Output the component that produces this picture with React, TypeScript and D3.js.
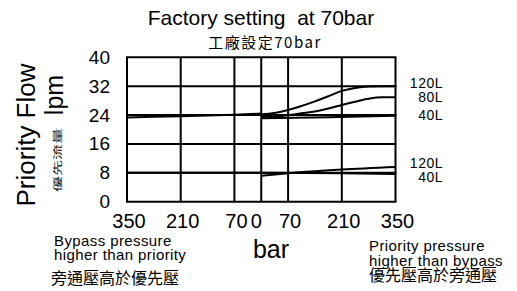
import React, { useRef, useEffect } from 'react';
import * as d3 from 'd3';

// flow axis (lpm)
const flowTicks = [0, 8, 16, 24, 32, 40];
// pressure grid: negative = bypass side, positive = priority side
const pressureTicks = [-350, -210, -70, 0, 70, 210, 350];

// bypass pressure higher than priority (left half)
const bypassPressure = [350, 210, 70, 0];
const bypassHigh = [23.3, 23.7, 24.1, 24.4];
const bypassLow = [8.0, 8.0, 8.0, 8.0];

// priority pressure higher than bypass (right half)
const priorityPressure = [0, 35, 70, 105, 140, 175, 210, 245, 280, 315, 350];
const flow120 = [24.2, 24.6, 25.4, 26.5, 27.8, 29.2, 30.7, 31.5, 31.9, 32.0, 32.0];
const flow80 = [23.5, 23.6, 24.0, 24.5, 25.0, 25.8, 26.8, 27.7, 28.5, 28.9, 28.9];
const flow40Pressure = [0, 175, 350];
const flow40 = [23.1, 23.4, 23.8];
const low120Pressure = [0, 70, 210, 350];
const low120 = [7.2, 7.9, 8.9, 9.6];
const low40Pressure = [0, 210, 350];
const low40 = [8.0, 7.9, 7.7];

const seriesLabels = ['120L', '80L', '40L', '120L', '40L'];
const seriesLabelFlow = [31.4, 27.7, 22.6, 9.25, 5.55];

const LATIN = '"Liberation Sans", Arial, sans-serif';
const CJK = '"Noto Sans CJK TC", "Noto Sans CJK SC", sans-serif';

const PriorityFlowChart: React.FC = () => {
  const svgRef = useRef<SVGSVGElement | null>(null);

  useEffect(() => {
    if (!svgRef.current) return;
    const svg = d3.select(svgRef.current);
    svg.selectAll('*').remove();

    const x = d3.scaleLinear().domain([-350, 350]).range([127, 395.5]);
    const y = d3.scaleLinear().domain([0, 40]).range([201.7, 57.3]);

    const grid = svg.append('g').attr('stroke', '#000').attr('stroke-width', 2);
    grid.selectAll('line.h')
      .data(flowTicks)
      .enter().append('line')
      .attr('x1', x(-350) - 1)
      .attr('x2', x(350) + 1)
      .attr('y1', d => y(d))
      .attr('y2', d => y(d));
    grid.selectAll('line.v')
      .data(pressureTicks)
      .enter().append('line')
      .attr('x1', d => x(d))
      .attr('x2', d => x(d))
      .attr('y1', y(40))
      .attr('y2', y(0));

    // curves
    const line = d3.line<[number, number]>()
      .x(d => x(d[0]))
      .y(d => y(d[1]))
      .curve(d3.curveMonotoneX);

    const series: [number, number][][] = [
      bypassPressure.map((p, i) => [-p, bypassHigh[i]] as [number, number]),
      bypassPressure.map((p, i) => [-p, bypassLow[i]] as [number, number]),
      priorityPressure.map((p, i) => [p, flow120[i]] as [number, number]),
      priorityPressure.map((p, i) => [p, flow80[i]] as [number, number]),
      flow40Pressure.map((p, i) => [p, flow40[i]] as [number, number]),
      low120Pressure.map((p, i) => [p, low120[i]] as [number, number]),
      low40Pressure.map((p, i) => [p, low40[i]] as [number, number]),
    ];
    svg.append('g').selectAll('path')
      .data(series)
      .enter().append('path')
      .attr('d', d => line(d))
      .attr('fill', 'none')
      .attr('stroke', '#000')
      .attr('stroke-width', 2);

    // flow tick labels
    svg.append('g').selectAll('text')
      .data(flowTicks)
      .enter().append('text')
      .attr('x', 110)
      .attr('y', d => y(d) + 6.5)
      .attr('text-anchor', 'end')
      .attr('font-family', LATIN)
      .attr('font-size', 19)
      .text(d => d);

    // pressure tick labels
    svg.append('g').selectAll('text')
      .data(pressureTicks)
      .enter().append('text')
      .attr('x', d => x(d) + (d === 0 ? -5 : 2))
      .attr('y', 228)
      .attr('text-anchor', 'middle')
      .attr('font-family', LATIN)
      .attr('font-size', 20)
      .text(d => Math.abs(d));

    // series labels
    svg.append('g').selectAll('text')
      .data(seriesLabels)
      .enter().append('text')
      .attr('x', 443)
      .attr('y', (d, i) => y(seriesLabelFlow[i]))
      .attr('text-anchor', 'end')
      .attr('font-family', LATIN)
      .attr('font-size', 14)
      .attr('letter-spacing', 0.5)
      .text(d => d);

    // titles
    svg.append('text')
      .attr('x', 261).attr('y', 25)
      .attr('text-anchor', 'middle')
      .attr('font-family', LATIN).attr('font-size', 21)
      .attr('xml:space', 'preserve')
      .text('Factory setting  at 70bar');
    svg.append('text')
      .attr('x', 265).attr('y', 48)
      .attr('text-anchor', 'middle')
      .attr('font-family', CJK).attr('font-size', 15)
      .attr('letter-spacing', 1.5)
      .text('工廠設定70bar');

    svg.append('text')
      .attr('transform', 'translate(35,135) rotate(-90)')
      .attr('text-anchor', 'middle')
      .attr('font-family', LATIN).attr('font-size', 26)
      .text('Priority Flow');
    svg.append('text')
      .attr('transform', 'translate(63,95) rotate(-90)')
      .attr('text-anchor', 'middle')
      .attr('font-family', LATIN).attr('font-size', 25)
      .text('lpm');
    svg.append('text')
      .attr('transform', 'translate(61,160) rotate(-90) scale(1,0.55)')
      .attr('text-anchor', 'middle')
      .attr('font-family', CJK).attr('font-size', 16)
      .text('優先流量');

    svg.append('text')
      .attr('x', 271).attr('y', 258)
      .attr('text-anchor', 'middle')
      .attr('font-family', LATIN).attr('font-size', 25)
      .text('bar');

    const notes = svg.append('g');
    const en = (tx: number, ty: number, s: string) =>
      notes.append('text').attr('x', tx).attr('y', ty)
        .attr('font-family', LATIN).attr('font-size', 15)
        .attr('letter-spacing', 0.4).text(s);
    const zh = (tx: number, ty: number, s: string) =>
      notes.append('text').attr('x', tx).attr('y', ty)
        .attr('font-family', CJK).attr('font-size', 16).text(s);
    en(54, 246, 'Bypass pressure');
    en(54, 259.5, 'higher than priority');
    zh(51, 284, '旁通壓高於優先壓');
    en(369, 251, 'Priority pressure');
    en(369, 266, 'higher than bypass');
    zh(369, 281, '優先壓高於旁通壓');
  }, []);

  return (
    <svg
      ref={svgRef}
      width={517}
      height={291}
      style={{ position: 'absolute', left: 0, top: 0, background: '#fff' }}
    />
  );
};

export default function App() {
  return <PriorityFlowChart />;
}
